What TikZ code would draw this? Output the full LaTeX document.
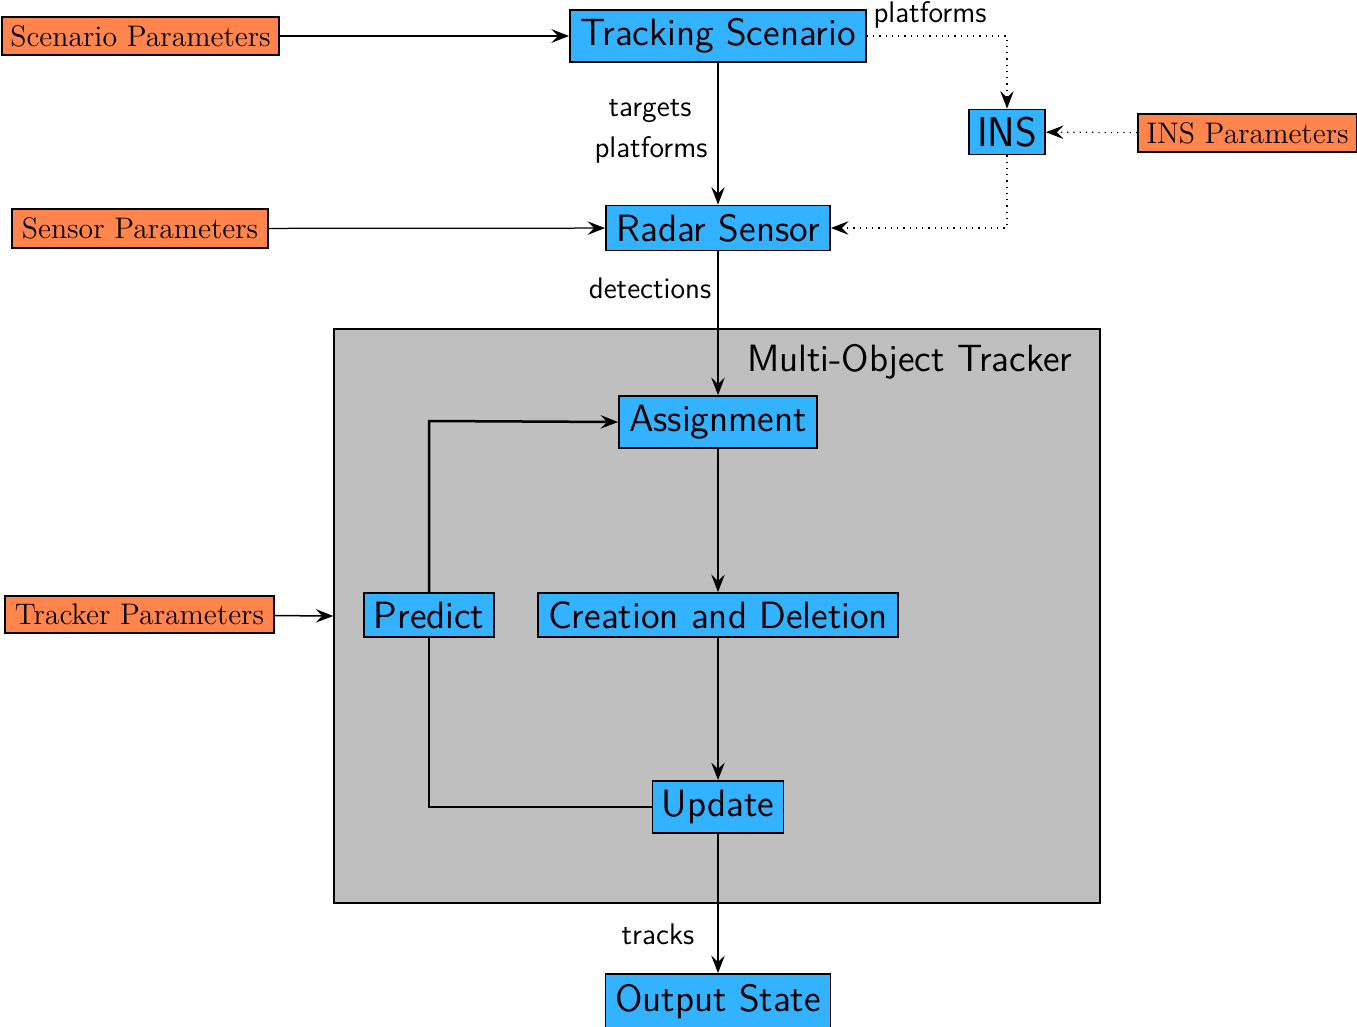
\documentclass[tikz,border=0pt]{standalone}
\usetikzlibrary{arrows.meta}
\definecolor{boxblue}{RGB}{51,178,255}
\definecolor{boxorange}{RGB}{255,133,77}
\definecolor{trackgray}{RGB}{191,191,191}
\begin{document}
\begin{tikzpicture}[x=0.4pt,y=-0.4pt,
  >={Stealth[length=7pt,width=5.4pt,inset=2.6pt]},
  blk/.style={draw=black,line width=0.75pt,fill=boxblue,inner sep=0pt,
    font=\fontsize{15.2}{18}\sffamily},
  par/.style={draw=black,line width=0.75pt,fill=boxorange,inner sep=0pt,
    font=\fontsize{11.9}{14}\rmfamily},
  lbl/.style={font=\fontsize{11.9}{14}\sffamily,inner sep=0pt},
  thk/.style={line width=1pt,->},
  thn/.style={line width=0.5pt,->},
  dot/.style={line width=0.5pt,dotted,->}]
\useasboundingbox (0,0) rectangle (1357,1026);
% tracker container
\node[draw=black,line width=0.6pt,fill=trackgray,minimum width=766*0.4pt,minimum height=574*0.4pt,inner sep=0pt] (mot) at (717,616) {};
\node[font=\fontsize{15.2}{18}\sffamily,inner sep=0pt,anchor=east] (motl) at (1073,362) {Multi-Object Tracker};
% blocks
\node[blk,minimum width=296*0.4pt,minimum height=52*0.4pt] (ts) at (718,36) {Tracking Scenario};
\node[blk,minimum width=76*0.4pt,minimum height=45*0.4pt,font=\fontsize{16.6}{19}\sffamily] (ins) at (1007,132) {INS};
\node[blk,minimum width=224*0.4pt,minimum height=45*0.4pt] (rs) at (718,228) {Radar Sensor};
\node[blk,minimum width=198*0.4pt,minimum height=52*0.4pt] (as) at (718,422) {Assignment};
\node[blk,minimum width=130*0.4pt,minimum height=44*0.4pt] (pr) at (429,615) {Predict};
\node[blk,minimum width=360*0.4pt,minimum height=44*0.4pt] (cd) at (718,615) {Creation and Deletion};
\node[blk,minimum width=131*0.4pt,minimum height=52*0.4pt] (up) at (718,807) {Update};
\node[blk,minimum width=225*0.4pt,minimum height=56*0.4pt] (os) at (718,1002) {Output State};
% parameters
\node[par,minimum width=277*0.4pt,minimum height=38*0.4pt] (sp) at (140.5,36) {Scenario Parameters};
\node[par,minimum width=256*0.4pt,minimum height=39*0.4pt] (sep) at (140,228.5) {Sensor Parameters};
\node[par,minimum width=219*0.4pt,minimum height=38*0.4pt] (ip) at (1247.5,133) {INS Parameters};
\node[par,minimum width=269*0.4pt,minimum height=37*0.4pt] (tp) at (139.5,614.5) {Tracker Parameters};
% labels
\node[lbl] (l1) at (930,15) {platforms};
\node[lbl] (l2) at (650,111) {targets};
\node[lbl] (l3) at (651,150) {platforms};
\node[lbl] (l4) at (650,288) {detections};
\node[lbl] (l5) at (658,934) {tracks};
% helper coordinates
\coordinate (c1) at (1007,36);
\coordinate (c2) at (1007,228);
\coordinate (c3) at (429,807);
\coordinate (c4) at (429,421);
% connectors
\draw[thk] (sp) -- (ts);
\draw[thn] (sep) -- (rs);
\draw[thn] (ts) -- (rs);
\draw[dot] (ts.east) -- (c1) -- (ins.north);
\draw[dot] (ins.south) -- (c2) -- (rs.east);
\draw[dot] (ip) -- (ins);
\draw[thn] (rs) -- (as);
\draw[thn] (as) -- (cd);
\draw[thn] (cd) -- (up);
\draw[thn] (up) -- (os);
\draw[line width=1pt] (up.west) -- (c3) -- (pr.south);
\draw[thk] (pr.north) -- (c4) -- (as.west);
\draw[line width=0.6pt,->] (tp) -- (mot.west);
\end{tikzpicture}
\end{document}
